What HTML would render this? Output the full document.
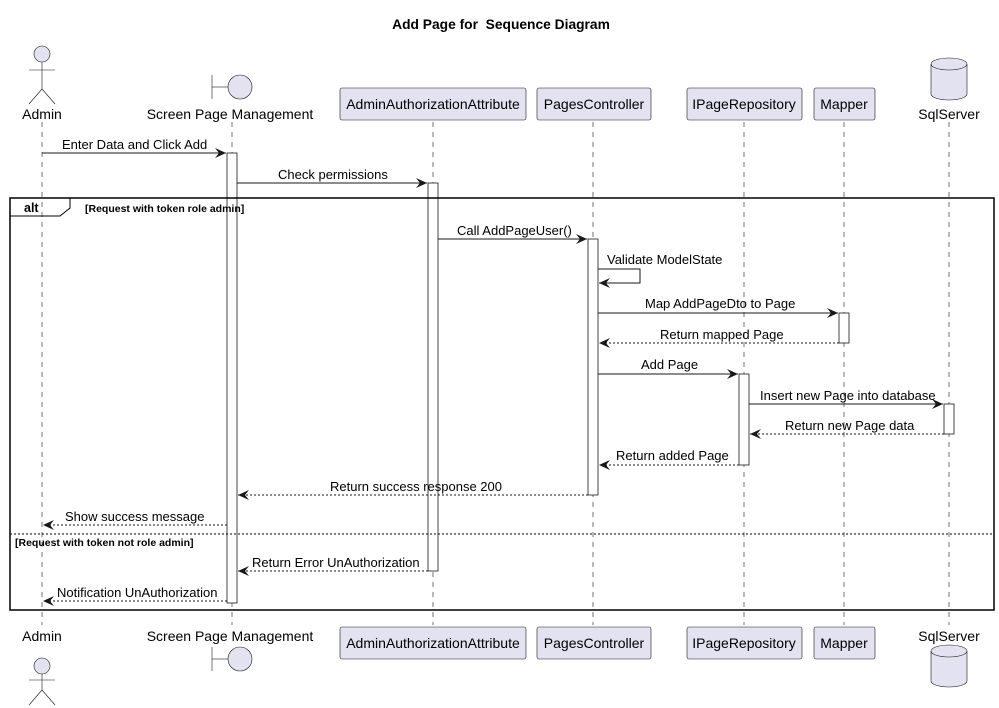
<!DOCTYPE html>
<html><head><meta charset="utf-8"><style>
html,body{margin:0;padding:0;background:#fff;}
svg{display:block;}
text{font-family:"Liberation Sans",Arial,sans-serif;fill:#000;}
</style></head><body>
<svg width="999" height="708" viewBox="0 0 999 708" xmlns="http://www.w3.org/2000/svg">
<defs>
<marker id="a" markerWidth="12" markerHeight="10" refX="11" refY="5" orient="auto" markerUnits="userSpaceOnUse">
<path d="M0,0 L11,5 L0,10 L4,5 Z" fill="#181818"/>
</marker>
</defs>
<text x="501" y="29" font-size="13.8" font-weight="bold" text-anchor="middle">Add Page for &#160;Sequence Diagram</text>

<g stroke="#181818" stroke-width="0.6" stroke-dasharray="5,5">
<line x1="42" y1="122" x2="42" y2="625"/>
<line x1="232" y1="122" x2="232" y2="625"/>
<line x1="433" y1="122" x2="433" y2="625"/>
<line x1="593" y1="122" x2="593" y2="625"/>
<line x1="744" y1="122" x2="744" y2="625"/>
<line x1="844" y1="122" x2="844" y2="625"/>
<line x1="949" y1="122" x2="949" y2="625"/>
</g>

<g stroke="#181818" stroke-width="0.6" fill="#E2E2F0">
<circle cx="42" cy="54" r="8"/>
<line x1="42" y1="62" x2="42" y2="89"/>
<line x1="29" y1="70" x2="55" y2="70"/>
<line x1="42" y1="89" x2="29" y2="104"/>
<line x1="42" y1="89" x2="55" y2="104"/>
<line x1="212" y1="75" x2="212" y2="99"/>
<line x1="212" y1="87" x2="228" y2="87"/>
<circle cx="240" cy="87" r="12"/>
<rect x="340" y="88" width="186" height="32" rx="2"/>
<rect x="537" y="88" width="114" height="32" rx="2"/>
<rect x="687" y="88" width="115" height="32" rx="2"/>
<rect x="814" y="88" width="61" height="32" rx="2"/>
<path d="M931,64 A18,6 0 0 1 967,64 L967,94 A18,6 0 0 1 931,94 Z"/>
<path d="M931,64 A18,6 0 0 0 967,64" fill="none"/>
</g>
<g font-size="14">
<text x="42" y="119" text-anchor="middle">Admin</text>
<text x="230" y="119" text-anchor="middle">Screen Page Management</text>
<text x="433" y="109" text-anchor="middle">AdminAuthorizationAttribute</text>
<text x="594" y="109" text-anchor="middle">PagesController</text>
<text x="744" y="109" text-anchor="middle">IPageRepository</text>
<text x="844" y="109" text-anchor="middle">Mapper</text>
<text x="949" y="119" text-anchor="middle">SqlServer</text>
</g>

<g stroke="#181818" stroke-width="0.6" fill="#E2E2F0">
<circle cx="42" cy="666" r="8"/>
<line x1="42" y1="674" x2="42" y2="690"/>
<line x1="29" y1="680" x2="55" y2="680"/>
<line x1="42" y1="690" x2="29" y2="705"/>
<line x1="42" y1="690" x2="55" y2="705"/>
<line x1="212" y1="647" x2="212" y2="671"/>
<line x1="212" y1="659" x2="228" y2="659"/>
<circle cx="240" cy="659" r="12"/>
<rect x="340" y="627" width="186" height="32" rx="2"/>
<rect x="537" y="627" width="114" height="32" rx="2"/>
<rect x="687" y="627" width="115" height="32" rx="2"/>
<rect x="814" y="627" width="61" height="32" rx="2"/>
<path d="M931,651 A18,6 0 0 1 967,651 L967,681 A18,6 0 0 1 931,681 Z"/>
<path d="M931,651 A18,6 0 0 0 967,651" fill="none"/>
</g>
<g font-size="14">
<text x="42" y="641" text-anchor="middle">Admin</text>
<text x="230" y="641" text-anchor="middle">Screen Page Management</text>
<text x="433" y="648" text-anchor="middle">AdminAuthorizationAttribute</text>
<text x="594" y="648" text-anchor="middle">PagesController</text>
<text x="744" y="648" text-anchor="middle">IPageRepository</text>
<text x="844" y="648" text-anchor="middle">Mapper</text>
<text x="949" y="641" text-anchor="middle">SqlServer</text>
</g>

<g stroke="#181818" stroke-width="0.8" fill="#fff">
<rect x="227" y="153" width="10" height="450"/>
<rect x="428" y="183" width="10" height="388"/>
<rect x="588" y="239" width="10" height="256"/>
<rect x="839" y="313" width="10" height="30"/>
<rect x="739" y="374" width="10" height="91"/>
<rect x="944" y="404" width="10" height="30"/>
</g>

<rect x="10" y="198" width="984" height="412" fill="none" stroke="#000" stroke-width="1.5"/>
<path d="M10,198 L70,198 L70,208 L60,216 L10,216" fill="none" stroke="#000" stroke-width="1"/>
<text x="24" y="212" font-size="12.5" font-weight="bold">alt</text>
<text x="85" y="212" font-size="10.5" font-weight="bold">[Request with token role admin]</text>
<line x1="10" y1="534" x2="994" y2="534" stroke="#000" stroke-width="1" stroke-dasharray="2,2"/>
<text x="15" y="546" font-size="10.5" font-weight="bold">[Request with token not role admin]</text>

<g stroke="#181818" stroke-width="1" fill="none">
<line x1="42" y1="153" x2="226" y2="153" marker-end="url(#a)"/>
<line x1="237" y1="183" x2="427" y2="183" marker-end="url(#a)"/>
<line x1="438" y1="239" x2="587" y2="239" marker-end="url(#a)"/>
<polyline points="598,269 640,269 640,283 599,283" marker-end="url(#a)"/>
<line x1="598" y1="313" x2="838" y2="313" marker-end="url(#a)"/>
<line x1="749" y1="404" x2="943" y2="404" marker-end="url(#a)"/>
<line x1="598" y1="374" x2="738" y2="374" marker-end="url(#a)"/>
<g stroke-dasharray="2,2">
<line x1="839" y1="343" x2="599" y2="343" marker-end="url(#a)"/>
<line x1="944" y1="434" x2="750" y2="434" marker-end="url(#a)"/>
<line x1="739" y1="465" x2="599" y2="465" marker-end="url(#a)"/>
<line x1="588" y1="495" x2="238" y2="495" marker-end="url(#a)"/>
<line x1="227" y1="525" x2="43" y2="525" marker-end="url(#a)"/>
<line x1="428" y1="571" x2="238" y2="571" marker-end="url(#a)"/>
<line x1="227" y1="601" x2="43" y2="601" marker-end="url(#a)"/>
</g>
</g>
<g font-size="13">
<text x="62" y="149">Enter Data and Click Add</text>
<text x="278" y="179">Check permissions</text>
<text x="457" y="235">Call AddPageUser()</text>
<text x="607" y="264">Validate ModelState</text>
<text x="645" y="308">Map AddPageDto to Page</text>
<text x="660" y="339">Return mapped Page</text>
<text x="641" y="369">Add Page</text>
<text x="760" y="400">Insert new Page into database</text>
<text x="785" y="430">Return new Page data</text>
<text x="616" y="460">Return added Page</text>
<text x="330" y="491">Return success response 200</text>
<text x="65" y="521">Show success message</text>
<text x="252" y="567">Return Error UnAuthorization</text>
<text x="57" y="597">Notification UnAuthorization</text>
</g>
</svg>
</body></html>
